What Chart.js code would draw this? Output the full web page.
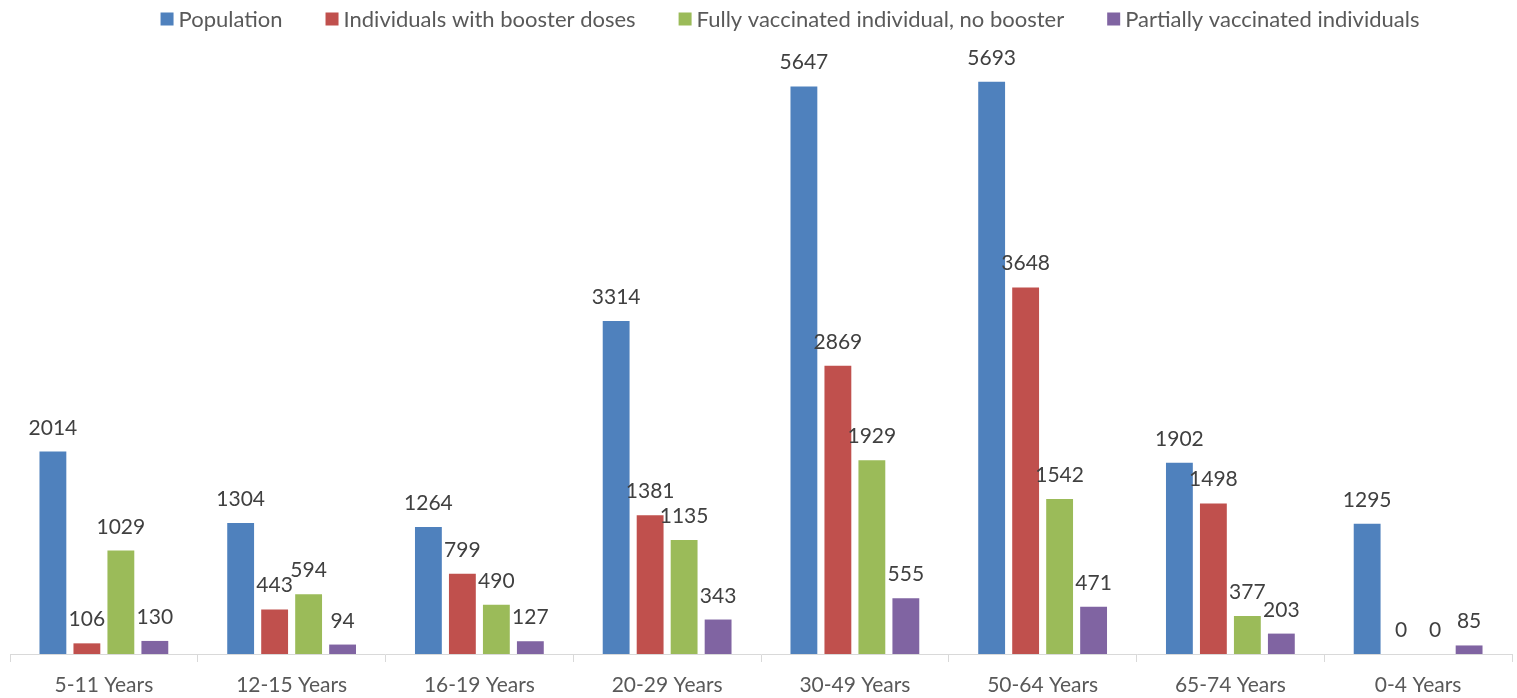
<!DOCTYPE html>
<html>
<head>
<meta charset="utf-8">
<script src="https://cdn.jsdelivr.net/npm/chart.js@4"></script>
<style>
  html, body { margin: 0; padding: 0; background: #ffffff; }
  #wrap { width: 1517px; height: 698px; position: relative; }
</style>
</head>
<body>
<div id="wrap"><canvas id="c" width="1517" height="698"></canvas></div>
<script>
const categories = ['5-11 Years', '12-15 Years', '16-19 Years', '20-29 Years', '30-49 Years', '50-64 Years', '65-74 Years', '0-4 Years'];
const seriesNames = ['Population', 'Individuals with booster doses', 'Fully vaccinated individual, no booster', 'Partially vaccinated individuals'];
const population = [2014, 1304, 1264, 3314, 5647, 5693, 1902, 1295];
const booster = [106, 443, 799, 1381, 2869, 3648, 1498, 0];
const fullyNoBooster = [1029, 594, 490, 1135, 1929, 1542, 377, 0];
const partial = [130, 94, 127, 343, 555, 471, 203, 85];
const colors = ['#4F81BD', '#C0504D', '#9BBB59', '#8064A2'];

const FONT = 'Lato, "Open Sans", sans-serif';

const dataLabels = {
  id: 'dataLabels',
  afterDatasetsDraw(chart) {
    const ctx = chart.ctx;
    ctx.save();
    ctx.font = '21px ' + FONT;
    ctx.fillStyle = '#404040';
    ctx.textAlign = 'center';
    ctx.textBaseline = 'alphabetic';
    chart.data.datasets.forEach((ds, i) => {
      const meta = chart.getDatasetMeta(i);
      meta.data.forEach((bar, j) => {
        ctx.fillText(String(ds.data[j]), bar.x, bar.y - 17);
      });
    });
    ctx.restore();
  }
};

const customLegend = {
  id: 'customLegend',
  afterDraw(chart) {
    const ctx = chart.ctx;
    ctx.save();
    ctx.font = '22px ' + FONT;
    ctx.textBaseline = 'middle';
    ctx.textAlign = 'left';
    const box = 13, gapText = 5, gapItem = 43;
    const items = chart.data.datasets.map(d => ({ label: d.label, color: d.backgroundColor, w: ctx.measureText(d.label).width }));
    let total = 0;
    items.forEach((it, i) => { total += box + gapText + it.w + (i < items.length - 1 ? gapItem : 0); });
    let x = 790 - total / 2;
    const cy = 19;
    items.forEach(it => {
      ctx.fillStyle = it.color;
      ctx.fillRect(x, cy - box / 2, box, box);
      x += box + gapText;
      ctx.fillStyle = '#595959';
      ctx.fillText(it.label, x, cy + 1);
      x += it.w + gapItem;
    });
    ctx.restore();
  }
};

const seriesData = [population, booster, fullyNoBooster, partial];

new Chart(document.getElementById('c'), {
  type: 'bar',
  data: {
    labels: categories,
    datasets: seriesData.map((d, i) => ({
      label: seriesNames[i],
      data: d,
      backgroundColor: colors[i],
      borderWidth: 0,
      categoryPercentage: 0.724,
      barPercentage: 0.79
    }))
  },
  options: {
    responsive: false,
    animation: false,
    devicePixelRatio: 1,
    layout: { padding: { top: 51, left: 10, right: 5, bottom: 0 } },
    plugins: {
      legend: { display: false },
      tooltip: { enabled: false },
      title: { display: false }
    },
    scales: {
      x: {
        offset: true,
        afterFit(scale) { scale.height = 44; },
        grid: {
          display: true,
          offset: true,
          drawOnChartArea: false,
          drawTicks: true,
          tickLength: 8,
          color: '#D9D9D9',
          lineWidth: 1
        },
        border: { display: true, color: '#D9D9D9', width: 1 },
        ticks: {
          color: '#595959',
          font: { family: FONT, size: 21, lineHeight: 1.2 },
          padding: 11,
          maxRotation: 0,
          autoSkip: false
        }
      },
      y: {
        display: false,
        min: 0,
        max: 6000
      }
    }
  },
  plugins: [dataLabels, customLegend]
});
</script>
</body>
</html>
